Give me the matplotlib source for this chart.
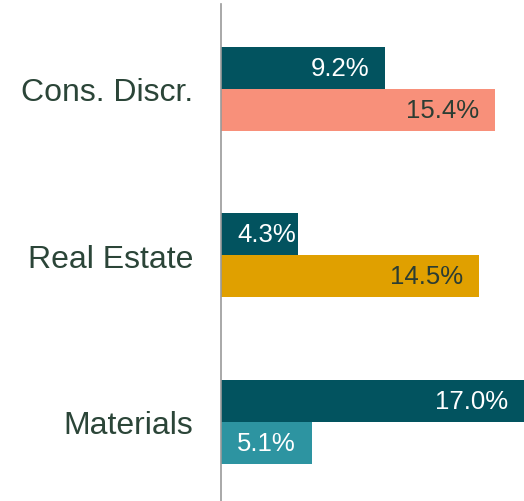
import matplotlib
matplotlib.use("Agg")
import matplotlib.pyplot as plt

categories = ["Cons. Discr.", "Real Estate", "Materials"]
series_a = [9.2, 4.3, 17.0]
series_b = [15.4, 14.5, 5.1]
colors_a = ["#02535f", "#02535f", "#02535f"]
colors_b = ["#f8907a", "#e0a000", "#2d94a1"]
text_a = ["white", "white", "white"]
text_b = ["#2b3d33", "#2b3d33", "white"]

plt.rcParams['font.family'] = ['Liberation Sans', 'DejaVu Sans']

W, H = 524, 502
fig = plt.figure(figsize=(W / 100, H / 100), dpi=100)
ax = fig.add_axes([221 / W, 0, 1 - 221 / W, 1 - 5 / H])

h = 0.252
xmax = 17.0
ax.set_xlim(0, xmax)
ax.set_ylim(2.4765, -0.5085)
px_per_unit = (W - 221) / xmax
pad = 16 / px_per_unit

def label(bar_val, y, txt, color):
    # right-aligned inside end, clamped at the start
    t = ax.text(bar_val - pad, y, txt, ha='right', va='center', fontsize=18.5, color=color)
    fig.canvas.draw()
    bb = t.get_window_extent()
    wdata = bb.width / px_per_unit
    if bar_val - pad - wdata < pad:
        t.set_x(pad)
        t.set_ha('left')

for i, cat in enumerate(categories):
    ya = i - h / 2
    yb = i + h / 2
    ax.barh(ya, series_a[i], height=h, color=colors_a[i])
    ax.barh(yb, series_b[i], height=h, color=colors_b[i])
    label(series_a[i], ya, f"{series_a[i]:.1f}%", text_a[i])
    label(series_b[i], yb, f"{series_b[i]:.1f}%", text_b[i])

ax.set_yticks(range(len(categories)))
ax.set_yticklabels(categories, fontsize=23, color="#2b4538")
ax.tick_params(axis='y', length=0, pad=20)
ax.set_xticks([])
for s in ['top', 'right', 'bottom']:
    ax.spines[s].set_visible(False)
ax.spines['left'].set_color('#999999')
ax.spines['left'].set_linewidth(1.2)

fig.savefig("out.png", dpi=100)
